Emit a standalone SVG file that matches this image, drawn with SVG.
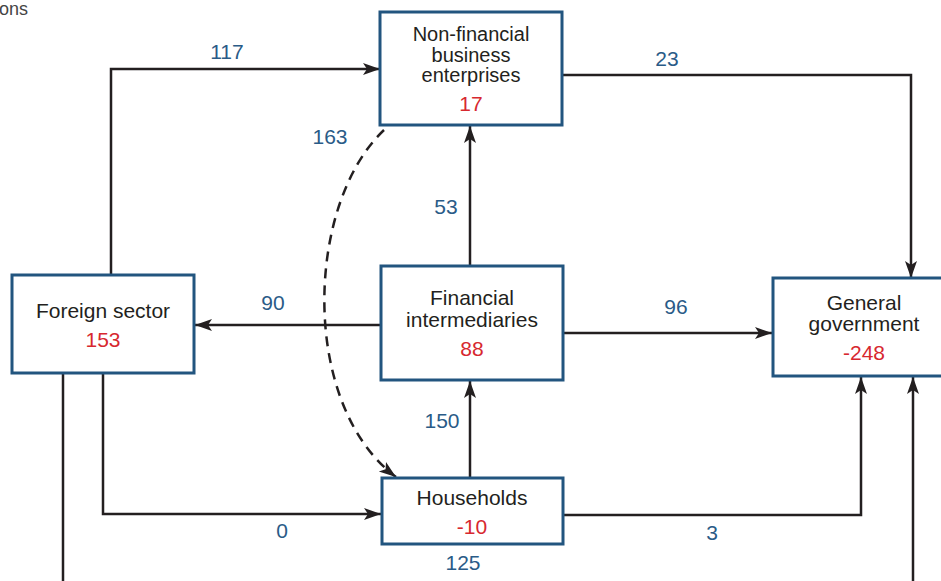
<svg xmlns="http://www.w3.org/2000/svg" width="941" height="581" viewBox="0 0 941 581">
<defs>
<marker id="ah" markerUnits="userSpaceOnUse" markerWidth="18" markerHeight="14" refX="17" refY="7" orient="auto">
<path d="M0,1 L17,7 L0,13 L4,7 Z" fill="#231f20"/>
</marker>
</defs>
<style>
.box{fill:#fff;stroke:#22557f;stroke-width:3}
.t{font-family:"Liberation Sans",Arial,sans-serif;font-size:21px;fill:#231f20;text-anchor:middle}
.s{font-size:20px}
.v{font-family:"Liberation Sans",Arial,sans-serif;font-size:21px;fill:#d7282f;text-anchor:middle}
.l{font-family:"Liberation Sans",Arial,sans-serif;font-size:21px;fill:#2a5b87;text-anchor:middle}
.c{fill:none;stroke:#231f20;stroke-width:2.5}
.a{marker-end:url(#ah)}
.d{stroke-dasharray:10 7}
</style>
<rect width="941" height="581" fill="#fff"/>
<text x="28" y="15" class="t" style="text-anchor:end;font-size:18px;fill:#444">ons</text>
<g id="connectors">
<path class="c a" d="M111,275 V69 H380"/>
<path class="c a" d="M562,75 H911 V278"/>
<path class="c a" d="M470,266 V126"/>
<path class="c a" d="M381,325 H195"/>
<path class="c a" d="M563,333 H772"/>
<path class="c a" d="M470,478 V381"/>
<path class="c a" d="M103,373 V514 H381"/>
<path class="c a" d="M564,515 H861 V377"/>
<path class="c" d="M63,373 V581"/>
<path class="c a" d="M913,581 V377"/>
<path class="c a d" d="M384,130 C305,205 300,405 396,477"/>
<text x="227" y="59" class="l">117</text>
<text x="667" y="66" class="l">23</text>
<text x="446" y="214" class="l">53</text>
<text x="330" y="144" class="l">163</text>
<text x="273" y="310" class="l">90</text>
<text x="676" y="314" class="l">96</text>
<text x="442" y="428" class="l">150</text>
<text x="282" y="538" class="l">0</text>
<text x="712" y="540" class="l">3</text>
<text x="463" y="570" class="l">125</text>
</g>
<g id="non-financial">
<rect class="box" x="380" y="12" width="182" height="113"/>
<text x="471" y="41" class="t s">Non-financial</text>
<text x="471" y="62" class="t s">business</text>
<text x="471" y="82" class="t s">enterprises</text>
<text x="471" y="111" class="v">17</text>
</g>
<g id="foreign-sector">
<rect class="box" x="12" y="275" width="182" height="98"/>
<text x="103" y="318" class="t">Foreign sector</text>
<text x="103" y="347" class="v">153</text>
</g>
<g id="financial-intermediaries">
<rect class="box" x="381" y="266" width="182" height="114"/>
<text x="472" y="305" class="t">Financial</text>
<text x="472" y="327" class="t">intermediaries</text>
<text x="472" y="356" class="v">88</text>
</g>
<g id="general-government">
<rect class="box" x="773" y="278" width="182" height="98"/>
<text x="864" y="310" class="t">General</text>
<text x="864" y="331" class="t">government</text>
<text x="864" y="360" class="v">-248</text>
</g>
<g id="households">
<rect class="box" x="382" y="478" width="181" height="66"/>
<text x="472" y="505" class="t">Households</text>
<text x="472" y="534" class="v">-10</text>
</g>
</svg>
